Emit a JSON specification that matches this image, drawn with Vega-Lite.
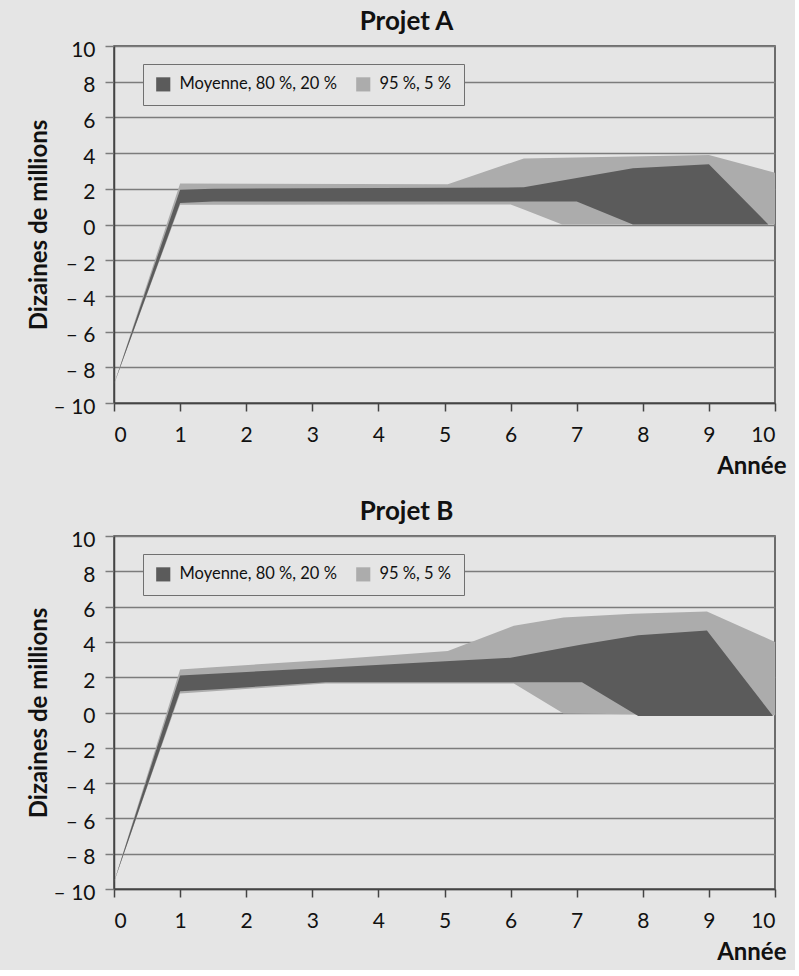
{
  "$schema": "https://vega.github.io/schema/vega-lite/v6.json",
  "background": "#e5e5e5",
  "padding": {"left": 26, "top": 8, "right": 8, "bottom": 5},
  "config": {
    "font": "Lato",
    "view": {"stroke": "#444", "strokeWidth": 1.5},
    "title": {"font": "Lato", "fontSize": 26, "fontWeight": "bold", "color": "#111", "frame": "bounds", "anchor": "middle", "offset": 4},
    "axis": {"labelFont": "Lato", "labelFontSize": 21, "labelColor": "#111", "titleFont": "Lato", "titleFontSize": 24, "titleFontWeight": "bold", "titleColor": "#111"},
    "legend": {"labelFont": "Lato"}
  },
  "datasets": {
    "bands": [
      {"projet": "A", "band": "95 %, 5 %", "x": 0, "lo": -8.95, "hi": -8.95},
      {"projet": "A", "band": "95 %, 5 %", "x": 1, "lo": 1.1, "hi": 2.3},
      {"projet": "A", "band": "95 %, 5 %", "x": 5.05, "lo": 1.12, "hi": 2.25},
      {"projet": "A", "band": "95 %, 5 %", "x": 6.0, "lo": 1.12, "hi": 3.45},
      {"projet": "A", "band": "95 %, 5 %", "x": 6.2, "lo": 0.84, "hi": 3.7},
      {"projet": "A", "band": "95 %, 5 %", "x": 6.78, "lo": 0, "hi": 3.74},
      {"projet": "A", "band": "95 %, 5 %", "x": 9.0, "lo": 0, "hi": 3.9},
      {"projet": "A", "band": "95 %, 5 %", "x": 10, "lo": 0, "hi": 2.9},
      {"projet": "A", "band": "Moyenne, 80 %, 20 %", "x": 0, "lo": -8.95, "hi": -8.95},
      {"projet": "A", "band": "Moyenne, 80 %, 20 %", "x": 1, "lo": 1.2, "hi": 1.95},
      {"projet": "A", "band": "Moyenne, 80 %, 20 %", "x": 1.5, "lo": 1.29, "hi": 2.0},
      {"projet": "A", "band": "Moyenne, 80 %, 20 %", "x": 6.2, "lo": 1.29, "hi": 2.08},
      {"projet": "A", "band": "Moyenne, 80 %, 20 %", "x": 7.0, "lo": 1.29, "hi": 2.6},
      {"projet": "A", "band": "Moyenne, 80 %, 20 %", "x": 7.85, "lo": 0, "hi": 3.15},
      {"projet": "A", "band": "Moyenne, 80 %, 20 %", "x": 9.0, "lo": 0, "hi": 3.38},
      {"projet": "A", "band": "Moyenne, 80 %, 20 %", "x": 9.9, "lo": 0, "hi": 0},
      {"projet": "B", "band": "95 %, 5 %", "x": 0, "lo": -9.6, "hi": -9.6},
      {"projet": "B", "band": "95 %, 5 %", "x": 1, "lo": 1.08, "hi": 2.43},
      {"projet": "B", "band": "95 %, 5 %", "x": 1.5, "lo": 1.2, "hi": 2.56},
      {"projet": "B", "band": "95 %, 5 %", "x": 3.2, "lo": 1.65, "hi": 2.98},
      {"projet": "B", "band": "95 %, 5 %", "x": 5.05, "lo": 1.65, "hi": 3.48},
      {"projet": "B", "band": "95 %, 5 %", "x": 6.05, "lo": 1.65, "hi": 4.92},
      {"projet": "B", "band": "95 %, 5 %", "x": 6.8, "lo": -0.05, "hi": 5.38},
      {"projet": "B", "band": "95 %, 5 %", "x": 7.85, "lo": -0.1, "hi": 5.6},
      {"projet": "B", "band": "95 %, 5 %", "x": 8.97, "lo": -0.1, "hi": 5.72},
      {"projet": "B", "band": "95 %, 5 %", "x": 10, "lo": -0.15, "hi": 4.0},
      {"projet": "B", "band": "Moyenne, 80 %, 20 %", "x": 0, "lo": -9.6, "hi": -9.6},
      {"projet": "B", "band": "Moyenne, 80 %, 20 %", "x": 1, "lo": 1.2, "hi": 2.1},
      {"projet": "B", "band": "Moyenne, 80 %, 20 %", "x": 1.5, "lo": 1.3, "hi": 2.2},
      {"projet": "B", "band": "Moyenne, 80 %, 20 %", "x": 3.2, "lo": 1.72, "hi": 2.53},
      {"projet": "B", "band": "Moyenne, 80 %, 20 %", "x": 6.0, "lo": 1.72, "hi": 3.1},
      {"projet": "B", "band": "Moyenne, 80 %, 20 %", "x": 6.85, "lo": 1.72, "hi": 3.7},
      {"projet": "B", "band": "Moyenne, 80 %, 20 %", "x": 7.08, "lo": 1.72, "hi": 3.85},
      {"projet": "B", "band": "Moyenne, 80 %, 20 %", "x": 7.93, "lo": -0.2, "hi": 4.37},
      {"projet": "B", "band": "Moyenne, 80 %, 20 %", "x": 8.97, "lo": -0.2, "hi": 4.65},
      {"projet": "B", "band": "Moyenne, 80 %, 20 %", "x": 9.97, "lo": -0.2, "hi": -0.2}
    ]
  },
  "spacing": 19,
  "vconcat": [
    {
      "title": "Projet A",
      "width": 661,
      "height": 357,
      "data": {"name": "bands"},
      "transform": [{"filter": "datum.projet === 'A'"}],
      "encoding": {
        "x": {"field": "x", "type": "quantitative", "scale": {"domain": [0, 10], "nice": false},
          "axis": {"values": [0,1,2,3,4,5,6,7,8,9,10], "grid": false, "tickSize": 8, "tickColor": "#444", "tickWidth": 1.5, "domainColor": "#444", "domainWidth": 1.5, "labelPadding": 13, "title": "Année", "titleAlign": "right", "titleX": 672, "titleY": 70, "titleBaseline": "alphabetic"}},
        "y": {"field": "lo", "type": "quantitative", "stack": null, "scale": {"domain": [-10, 10], "nice": false},
          "axis": {"values": [-10,-8,-6,-4,-2,0,2,4,6,8,10], "grid": true, "gridColor": "#7c7c7c", "gridWidth": 1.5, "tickSize": 9, "tickColor": "#7c7c7c", "tickWidth": 1.5, "domainColor": "#444", "domainWidth": 1.5, "labelPadding": 10, "labelOffset": 4, "labelExpr": "datum.value < 0 ? '– ' + (-datum.value) : datum.label", "title": "Dizaines de millions", "titlePadding": 2}},
        "y2": {"field": "hi"},
        "color": {"field": "band", "type": "nominal",
          "scale": {"domain": ["Moyenne, 80 %, 20 %", "95 %, 5 %"], "range": ["#5b5b5b", "#acacac"]},
          "legend": {"title": null, "orient": "none", "legendX": 29, "legendY": 18, "direction": "horizontal", "strokeColor": "#707070", "fillColor": "#e5e5e5", "padding": 12, "symbolType": "square", "symbolSize": 200, "symbolStrokeWidth": 0, "symbolOpacity": 1, "labelFontSize": 16.5, "labelColor": "#111", "labelOffset": 8, "columnPadding": 18}}
      },
      "layer": [
        {"transform": [{"filter": "datum.band === '95 %, 5 %'"}], "mark": {"type": "area", "opacity": 1}},
        {"transform": [{"filter": "datum.band !== '95 %, 5 %'"}], "mark": {"type": "area", "opacity": 1}}
      ]
    },
    {
      "title": "Projet B",
      "width": 661,
      "height": 353,
      "data": {"name": "bands"},
      "transform": [{"filter": "datum.projet === 'B'"}],
      "encoding": {
        "x": {"field": "x", "type": "quantitative", "scale": {"domain": [0, 10], "nice": false},
          "axis": {"values": [0,1,2,3,4,5,6,7,8,9,10], "grid": false, "tickSize": 8, "tickColor": "#444", "tickWidth": 1.5, "domainColor": "#444", "domainWidth": 1.5, "labelPadding": 13, "title": "Année", "titleAlign": "right", "titleX": 672, "titleY": 70, "titleBaseline": "alphabetic"}},
        "y": {"field": "lo", "type": "quantitative", "stack": null, "scale": {"domain": [-10, 10], "nice": false},
          "axis": {"values": [-10,-8,-6,-4,-2,0,2,4,6,8,10], "grid": true, "gridColor": "#7c7c7c", "gridWidth": 1.5, "tickSize": 9, "tickColor": "#7c7c7c", "tickWidth": 1.5, "domainColor": "#444", "domainWidth": 1.5, "labelPadding": 10, "labelOffset": 4, "labelExpr": "datum.value < 0 ? '– ' + (-datum.value) : datum.label", "title": "Dizaines de millions", "titlePadding": 2}},
        "y2": {"field": "hi"},
        "color": {"field": "band", "type": "nominal",
          "scale": {"domain": ["Moyenne, 80 %, 20 %", "95 %, 5 %"], "range": ["#5b5b5b", "#acacac"]},
          "legend": {"title": null, "orient": "none", "legendX": 29, "legendY": 18, "direction": "horizontal", "strokeColor": "#707070", "fillColor": "#e5e5e5", "padding": 12, "symbolType": "square", "symbolSize": 200, "symbolStrokeWidth": 0, "symbolOpacity": 1, "labelFontSize": 16.5, "labelColor": "#111", "labelOffset": 8, "columnPadding": 18}}
      },
      "layer": [
        {"transform": [{"filter": "datum.band === '95 %, 5 %'"}], "mark": {"type": "area", "opacity": 1}},
        {"transform": [{"filter": "datum.band !== '95 %, 5 %'"}], "mark": {"type": "area", "opacity": 1}}
      ]
    }
  ],
  "resolve": {"scale": {"color": "independent"}}
}
